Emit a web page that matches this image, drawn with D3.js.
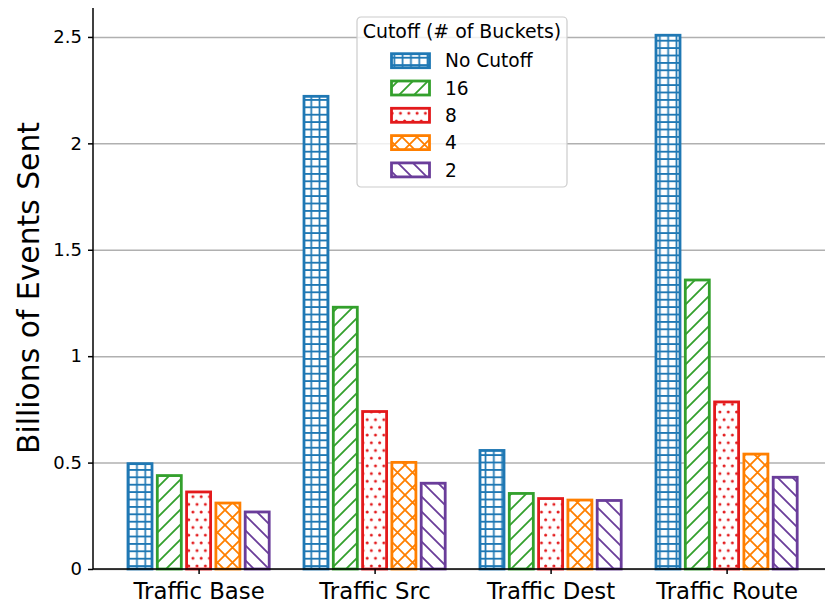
<!DOCTYPE html>
<html>
<head>
<meta charset="utf-8">
<script src="https://d3js.org/d3.v7.min.js"></script>
<style>
  body { margin: 0; background: #fff; }
  svg { display: block; font-family: "DejaVu Sans", sans-serif; }
</style>
</head>
<body>
<div id="chart"></div>
<script>
    const width = 825,
        height = 605;

    // data (billions of events)
    const categories = ["Traffic Base", "Traffic Src", "Traffic Dest", "Traffic Route"];
    const seriesNames = ["No Cutoff", "16", "8", "4", "2"];
    const noCutoff = [0.495, 2.221, 0.557, 2.508];
    const cut16 = [0.439, 1.23, 0.355, 1.358];
    const cut8 = [0.362, 0.740, 0.331, 0.785];
    const cut4 = [0.310, 0.501, 0.324, 0.540];
    const cut2 = [0.268, 0.403, 0.322, 0.431];
    const yTicks = [0, 0.5, 1, 1.5, 2, 2.5];

    const series = [noCutoff, cut16, cut8, cut4, cut2];
    const colors = ["#1f78b4", "#33a02c", "#e31a1c", "#ff7f00", "#6a3d9a"];
    const hatches = ["grid", "slash", "dots", "cross", "back"];

    const plotLeft = 93, plotBottom = 569, plotTop = 8;

    const x = d3.scalePoint()
        .domain(categories)
        .range([plotLeft, plotLeft + 4.2 * 176])
        .padding(0.6);

    const xInner = d3.scaleBand()
        .domain(seriesNames)
        .range([-73.25, 73.25]);

    const y = d3.scaleLinear()
        .domain([0, 2.636])
        .range([plotBottom, plotTop]);

    const svg = d3.select("#chart").append("svg")
        .attr("width", width)
        .attr("height", height);

    // hatch patterns
    const defs = svg.append("defs");
    hatches.forEach((h, i) => {
        const c = colors[i];
        if (h === "grid") {
            const p = defs.append("pattern").attr("id", "h-" + h)
                .attr("patternUnits", "userSpaceOnUse").attr("width", 8.3).attr("height", 7.4);
            p.append("rect").attr("width", 8.3).attr("height", 7.4).attr("fill", "#fff");
            p.append("path").attr("d", "M0,3.7H8.3M4.15,0V7.4")
                .attr("stroke", c).attr("stroke-width", 1.7).attr("fill", "none");
        } else if (h === "dots") {
            const p = defs.append("pattern").attr("id", "h-" + h)
                .attr("patternUnits", "userSpaceOnUse").attr("width", 8.3).attr("height", 15.4);
            p.append("rect").attr("width", 8.3).attr("height", 15.4).attr("fill", "#fff");
            p.append("circle").attr("cx", 2).attr("cy", 3.8).attr("r", 1.5).attr("fill", c);
            p.append("circle").attr("cx", 6.15).attr("cy", 11.5).attr("r", 1.5).attr("fill", c);
        } else {
            const s = 15;
            const p = defs.append("pattern").attr("id", "h-" + h)
                .attr("patternUnits", "userSpaceOnUse").attr("width", s).attr("height", s);
            p.append("rect").attr("width", s).attr("height", s).attr("fill", "#fff");
            const fwd = `M-2,${s + 2}L${s + 2},-2M-2,2L2,-2M${s - 2},${s + 2}L${s + 2},${s - 2}`;
            const bwd = `M-2,-2L${s + 2},${s + 2}M${s - 2},-2L${s + 2},2M-2,${s - 2}L2,${s + 2}`;
            const d = h === "slash" ? fwd : h === "back" ? bwd : fwd + bwd;
            p.append("path").attr("d", d)
                .attr("stroke", c).attr("stroke-width", 1.8).attr("fill", "none");
        }
    });

    // gridlines
    svg.append("g")
        .attr("transform", `translate(${plotLeft},0)`)
        .call(d3.axisLeft(y).tickValues(yTicks).tickSize(-(width - plotLeft)).tickFormat(""))
        .call(g => g.select(".domain").remove())
        .call(g => g.selectAll("line").attr("stroke", "#b0b0b0").attr("stroke-width", 1.5));

    // bars
    const barW = 24;
    svg.append("g").selectAll("g.series").data(series)
        .join("g").attr("class", "series")
        .each(function(vals, si) {
            d3.select(this).selectAll("rect").data(vals)
                .join("rect")
                .attr("x", (d, ci) => x(categories[ci]) + xInner(seriesNames[si]) + (xInner.bandwidth() - barW) / 2)
                .attr("y", d => y(d))
                .attr("width", barW)
                .attr("height", d => y(0) - y(d))
                .attr("fill", `url(#h-${hatches[si]})`)
                .attr("stroke", colors[si])
                .attr("stroke-width", 2.8);
        });

    // y axis
    svg.append("g")
        .attr("transform", `translate(${plotLeft},0)`)
        .call(d3.axisLeft(y).tickValues(yTicks).tickSize(5).tickPadding(6).tickFormat(d3.format("~g")))
        .call(g => g.select(".domain").attr("d", `M0,${plotTop}V${plotBottom}`).attr("stroke", "#000").attr("stroke-width", 1.5))
        .call(g => g.selectAll("line").attr("stroke", "#000").attr("stroke-width", 1.5))
        .call(g => g.selectAll("text").attr("font-size", 18).attr("fill", "#000").attr("font-family", "DejaVu Sans"));

    // x axis
    svg.append("g")
        .attr("transform", `translate(0,${plotBottom})`)
        .call(d3.axisBottom(x).tickSize(5).tickPadding(9))
        .call(g => g.select(".domain").attr("d", `M${plotLeft},0H${width}`).attr("stroke", "#000").attr("stroke-width", 1.5))
        .call(g => g.selectAll("line").attr("stroke", "#000").attr("stroke-width", 1.5))
        .call(g => g.selectAll("text").attr("font-size", 22.8).attr("fill", "#000").attr("font-family", "DejaVu Sans"));

    // y label
    svg.append("text")
        .attr("transform", `translate(39,288) rotate(-90)`)
        .attr("text-anchor", "middle")
        .attr("font-size", 29.8)
        .text("Billions of Events Sent");

    // legend
    const lg = svg.append("g").attr("transform", "translate(357,17)");
    lg.append("rect")
        .attr("width", 210).attr("height", 170)
        .attr("rx", 4)
        .attr("fill", "#fff").attr("fill-opacity", 0.8)
        .attr("stroke", "#cccccc").attr("stroke-width", 1.2);
    lg.append("text")
        .attr("x", 105).attr("y", 21)
        .attr("text-anchor", "middle")
        .attr("font-size", 18.9)
        .text("Cutoff (# of Buckets)");
    seriesNames.forEach((name, i) => {
        const cy = 43.7 + i * 27.3;
        lg.append("rect")
            .attr("x", 34.5).attr("y", cy - 7)
            .attr("width", 38).attr("height", 14)
            .attr("fill", `url(#h-${hatches[i]})`)
            .attr("stroke", colors[i]).attr("stroke-width", 2.8);
        lg.append("text")
            .attr("x", 88).attr("y", cy)
            .attr("dy", "0.36em")
            .attr("font-size", 18.6)
            .text(name);
    });
</script>
</body>
</html>
